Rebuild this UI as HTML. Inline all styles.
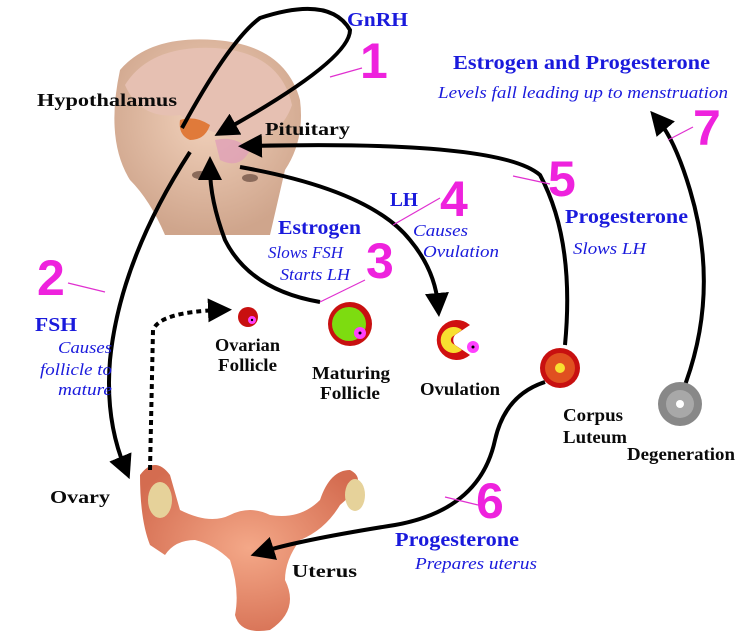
<!DOCTYPE html>
<html><head><meta charset="utf-8"><style>
html,body{margin:0;padding:0;background:#fff}
svg{display:block}
.b{font-family:"Liberation Serif",serif;font-weight:bold;fill:#0a0a0a;font-size:18px}
.bl{font-family:"Liberation Serif",serif;font-weight:bold;fill:#1a1adc;font-size:20px}
.it{font-family:"Liberation Serif",serif;font-style:italic;fill:#1a1adc;font-size:17px}
.n{font-family:"Liberation Sans",sans-serif;font-weight:bold;fill:#ee22dd;font-size:50px}
</style></head><body>
<svg width="748" height="638" viewBox="0 0 748 638" xmlns="http://www.w3.org/2000/svg">
<defs>
<marker id="ah" markerWidth="6" markerHeight="6" refX="3" refY="3" orient="auto" markerUnits="strokeWidth">
<path d="M0,0 L6,3 L0,6 Z" fill="#000"/></marker>
<radialGradient id="skin" cx="0.5" cy="0.4" r="0.6"><stop offset="0" stop-color="#f2d2bc"/><stop offset="1" stop-color="#cfa58c"/></radialGradient>
<radialGradient id="ut" cx="0.5" cy="0.5" r="0.6"><stop offset="0" stop-color="#f4a888"/><stop offset="1" stop-color="#d46c50"/></radialGradient>
</defs>
<!-- head -->
<path d="M120,70 Q150,35 215,40 Q285,45 300,100 Q305,140 285,170 L270,235 L165,235 Q150,200 130,180 Q105,140 120,70Z" fill="url(#skin)"/>
<path d="M125,85 Q150,45 215,48 Q280,52 292,105 Q280,140 240,140 Q200,130 180,115 Q140,120 125,85Z" fill="#e6c0b2"/>
<ellipse cx="200" cy="175" rx="8" ry="4" fill="#8a6a5a"/><ellipse cx="250" cy="178" rx="8" ry="4" fill="#8a6a5a"/>
<path d="M180,120 Q195,115 210,125 Q205,140 190,140 Q178,135 180,120Z" fill="#e07a3a"/>
<path d="M215,140 Q235,135 250,150 Q240,170 220,160Z" fill="#e0a0b8" opacity="0.8"/>
<!-- uterus -->
<path d="M140,475 Q155,455 170,475 L180,510 Q210,525 230,515 Q250,505 270,515 Q300,520 320,500 Q330,470 350,470 Q370,480 340,505 Q325,530 300,540 Q285,560 285,580 Q300,610 270,630 Q240,635 235,615 Q240,590 230,560 Q215,545 195,540 Q175,540 165,555 L150,545 Q140,520 140,475Z" fill="url(#ut)"/>
<ellipse cx="160" cy="500" rx="12" ry="18" fill="#e6d29a"/><ellipse cx="355" cy="495" rx="10" ry="16" fill="#e6d29a"/>
<!-- arrows -->
<g fill="none" stroke="#000" stroke-width="4">
<path d="M182,128 Q230,40 260,18 Q330,-5 350,30 Q350,60 225,130" marker-end="url(#ah)"/>
<path d="M190,152 Q120,260 110,360 Q105,420 125,468" marker-end="url(#ah)"/>
<path d="M320,302 Q250,290 225,240 Q210,200 210,168" marker-end="url(#ah)"/>
<path d="M240,167 Q370,190 410,240 Q435,270 438,305" marker-end="url(#ah)"/>
<path d="M565,345 Q575,240 540,175 Q500,140 250,146" marker-end="url(#ah)"/>
<path d="M545,382 Q505,395 495,440 Q480,510 395,525 Q300,540 262,552" marker-end="url(#ah)"/>
<path d="M685,385 Q720,290 690,190 Q675,140 658,120" marker-end="url(#ah)"/>
<path d="M150,470 L153,330 Q160,312 220,310" stroke-dasharray="5,4" marker-end="url(#ah)"/>
</g>
<!-- magenta lines -->
<g stroke="#e030d0" stroke-width="1.2">
<line x1="330" y1="77" x2="362" y2="68"/><line x1="68" y1="283" x2="105" y2="292"/>
<line x1="320" y1="302" x2="365" y2="280"/><line x1="393" y1="225" x2="440" y2="198"/>
<line x1="513" y1="176" x2="550" y2="184"/><line x1="445" y1="497" x2="478" y2="505"/>
<line x1="668" y1="140" x2="693" y2="127"/>
</g>
<!-- follicles -->
<circle cx="248" cy="317" r="10" fill="#c81010"/><circle cx="252" cy="320" r="4" fill="#ff40ff"/><circle cx="252" cy="320" r="1.2" fill="#000"/>
<circle cx="350" cy="324" r="22" fill="#c81010"/><circle cx="349" cy="324" r="17" fill="#7ddc10"/><circle cx="360" cy="333" r="6" fill="#ff40ff"/><circle cx="360" cy="333" r="1.5" fill="#000"/>
<path d="M470,325 A20,20 0 1 0 470,355 L455,345 A8,8 0 0 1 455,335 Z" fill="#d01010"/>
<path d="M462,330 A13,13 0 1 0 462,350 L452,343 A5,5 0 0 1 452,337Z" fill="#f8e030"/>
<circle cx="473" cy="347" r="6" fill="#ff40ff"/><circle cx="473" cy="347" r="1.5" fill="#000"/>
<circle cx="560" cy="368" r="20" fill="#c81010"/><circle cx="560" cy="368" r="15" fill="#e05020"/><circle cx="560" cy="368" r="5" fill="#f8e030"/>
<circle cx="680" cy="404" r="22" fill="#888"/><circle cx="680" cy="404" r="14" fill="#a8a8a8"/><circle cx="680" cy="404" r="4" fill="#fff"/>
<!-- text -->
<g lengthAdjust="spacingAndGlyphs">
<text class="bl" x="347" y="26" textLength="61" lengthAdjust="spacingAndGlyphs">GnRH</text>
<text class="n" x="360" y="78">1</text>
<text class="b" x="37" y="106" textLength="140" lengthAdjust="spacingAndGlyphs">Hypothalamus</text>
<text class="b" x="265" y="135" textLength="85" lengthAdjust="spacingAndGlyphs">Pituitary</text>
<text class="bl" x="453" y="69" textLength="257" lengthAdjust="spacingAndGlyphs">Estrogen and Progesterone</text>
<text class="it" x="438" y="98" textLength="290" lengthAdjust="spacingAndGlyphs">Levels fall leading up to menstruation</text>
<text class="n" x="693" y="145">7</text>
<text class="bl" x="390" y="206" textLength="28" lengthAdjust="spacingAndGlyphs">LH</text>
<text class="n" x="440" y="216">4</text>
<text class="it" x="413" y="236" textLength="55" lengthAdjust="spacingAndGlyphs">Causes</text>
<text class="it" x="423" y="257" textLength="76" lengthAdjust="spacingAndGlyphs">Ovulation</text>
<text class="n" x="548" y="196">5</text>
<text class="bl" x="565" y="223" textLength="123" lengthAdjust="spacingAndGlyphs">Progesterone</text>
<text class="it" x="573" y="254" textLength="73" lengthAdjust="spacingAndGlyphs">Slows LH</text>
<text class="bl" x="278" y="234" textLength="83" lengthAdjust="spacingAndGlyphs">Estrogen</text>
<text class="it" x="268" y="258" textLength="75" lengthAdjust="spacingAndGlyphs">Slows FSH</text>
<text class="it" x="280" y="280" textLength="70" lengthAdjust="spacingAndGlyphs">Starts LH</text>
<text class="n" x="366" y="278">3</text>
<text class="n" x="37" y="295">2</text>
<text class="bl" x="35" y="331" textLength="42" lengthAdjust="spacingAndGlyphs">FSH</text>
<text class="it" x="58" y="353" textLength="54" lengthAdjust="spacingAndGlyphs">Causes</text>
<text class="it" x="40" y="375" textLength="72" lengthAdjust="spacingAndGlyphs">follicle to</text>
<text class="it" x="58" y="395" textLength="54" lengthAdjust="spacingAndGlyphs">mature</text>
<text class="b" x="215" y="351" textLength="65" lengthAdjust="spacingAndGlyphs">Ovarian</text>
<text class="b" x="218" y="371" textLength="59" lengthAdjust="spacingAndGlyphs">Follicle</text>
<text class="b" x="312" y="379" textLength="78" lengthAdjust="spacingAndGlyphs">Maturing</text>
<text class="b" x="320" y="399" textLength="60" lengthAdjust="spacingAndGlyphs">Follicle</text>
<text class="b" x="420" y="395" textLength="80" lengthAdjust="spacingAndGlyphs">Ovulation</text>
<text class="b" x="563" y="421" textLength="60" lengthAdjust="spacingAndGlyphs">Corpus</text>
<text class="b" x="563" y="443" textLength="64" lengthAdjust="spacingAndGlyphs">Luteum</text>
<text class="b" x="627" y="460" textLength="108" lengthAdjust="spacingAndGlyphs">Degeneration</text>
<text class="b" x="50" y="503" textLength="60" lengthAdjust="spacingAndGlyphs">Ovary</text>
<text class="n" x="476" y="518">6</text>
<text class="bl" x="395" y="546" textLength="124" lengthAdjust="spacingAndGlyphs">Progesterone</text>
<text class="it" x="415" y="569" textLength="122" lengthAdjust="spacingAndGlyphs">Prepares uterus</text>
<text class="b" x="292" y="577" textLength="65" lengthAdjust="spacingAndGlyphs">Uterus</text>
</g>
</svg>
</body></html>
